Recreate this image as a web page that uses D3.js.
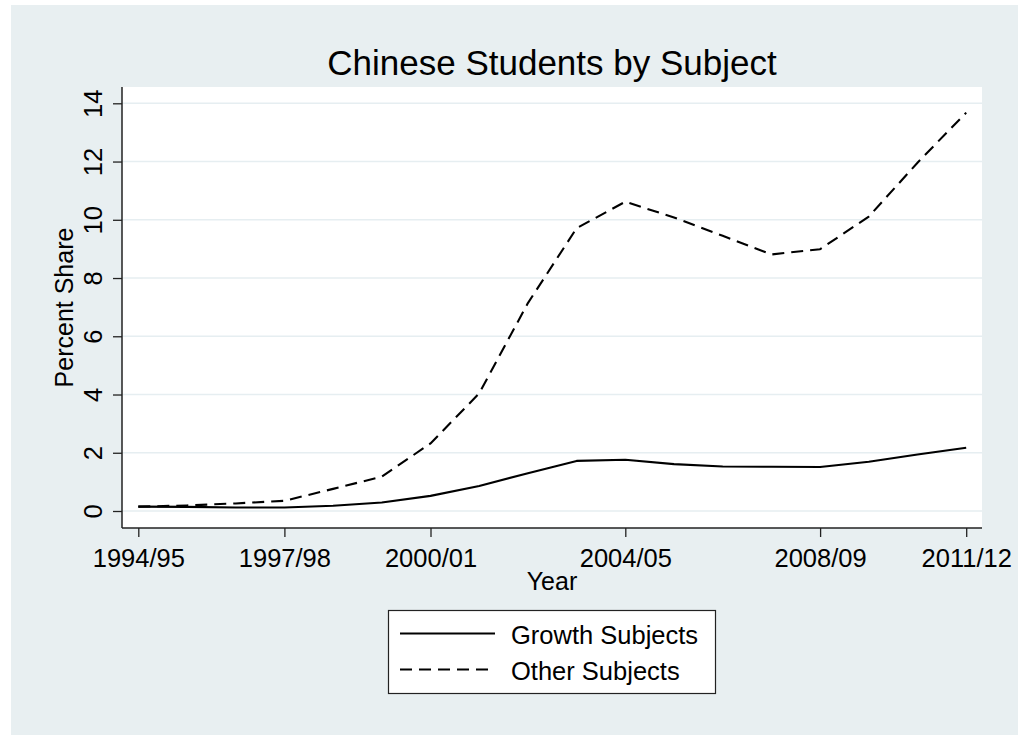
<!DOCTYPE html>
<html>
<head>
<meta charset="utf-8">
<script src="https://cdn.jsdelivr.net/npm/d3@7/dist/d3.min.js"></script>
<style>
  html, body { margin: 0; padding: 0; background: #ffffff; }
  svg { display: block; }
  text { font-family: Arial, "Liberation Sans", sans-serif; fill: #000; }
</style>
</head>
<body>
<svg id="chart" width="1018" height="735"></svg>
<script>
// Academic years (start year of each session)
const years = [1994, 1995, 1996, 1997, 1998, 1999, 2000, 2001, 2002,
               2003, 2004, 2005, 2006, 2007, 2008, 2009, 2010, 2011];

// Percent share of Chinese students, by subject group
const growthSubjects = [0.15, 0.14, 0.12, 0.12, 0.18, 0.29, 0.52, 0.86, 1.30,
                        1.72, 1.76, 1.61, 1.53, 1.52, 1.51, 1.69, 1.94, 2.17];
const otherSubjects  = [0.15, 0.19, 0.26, 0.35, 0.76, 1.18, 2.32, 4.04, 7.14,
                        9.71, 10.62, 10.08, 9.45, 8.81, 8.99, 10.11, 11.96, 13.68];

// Axis ticks
const xTickYears  = [1994, 1997, 2000, 2004, 2008, 2011];
const xTickLabels = ["1994/95", "1997/98", "2000/01", "2004/05", "2008/09", "2011/12"];
const yTicks = [0, 2, 4, 6, 8, 10, 12, 14];

const seriesNames = ["Growth Subjects", "Other Subjects"];

const svg = d3.select("#chart");
const bg = "#e8eff1";

// graph region
svg.append("rect").attr("x", 11).attr("y", 5).attr("width", 1007).attr("height", 730).attr("fill", bg);

// plot region
const plot = { left: 122, right: 982, top: 87, bottom: 528 };
svg.append("rect")
  .attr("x", plot.left).attr("y", plot.top)
  .attr("width", plot.right - plot.left).attr("height", plot.bottom - plot.top)
  .attr("fill", "#ffffff");

const x = d3.scaleLinear().domain([1994, 2011]).range([138.3, 966.2]);
const y = d3.scaleLinear().domain([0, 14]).range([511, 103.3]);

// gridlines
svg.append("g").selectAll("line").data(yTicks).join("line")
  .attr("x1", plot.left).attr("x2", plot.right)
  .attr("y1", d => y(d)).attr("y2", d => y(d))
  .attr("stroke", "#e6eef1").attr("stroke-width", 1.6);

// y axis
const yAxis = d3.axisLeft(y).tickValues(yTicks).tickSize(9).tickPadding(0).tickFormat(d3.format("d"));
const gy = svg.append("g").attr("transform", `translate(${plot.left},0)`).call(yAxis);
gy.select(".domain").remove();
gy.selectAll(".tick line").attr("stroke", "#222").attr("stroke-width", 1.3);
gy.selectAll(".tick text")
  .attr("x", null).attr("dy", null)
  .attr("transform", "translate(-20.5,0) rotate(-90)")
  .attr("text-anchor", "middle")
  .style("font-size", "25.5px");
svg.append("line").attr("x1", plot.left).attr("x2", plot.left)
  .attr("y1", plot.top).attr("y2", plot.bottom).attr("stroke", "#222").attr("stroke-width", 1.5);

// x axis
const xAxis = d3.axisBottom(x).tickValues(xTickYears).tickSize(9).tickPadding(0)
  .tickFormat((d, i) => xTickLabels[i]);
const gx = svg.append("g").attr("transform", `translate(0,${plot.bottom})`).call(xAxis);
gx.select(".domain").remove();
gx.selectAll(".tick line").attr("stroke", "#222").attr("stroke-width", 1.3);
gx.selectAll(".tick text")
  .attr("y", 39).attr("dy", null)
  .style("font-size", "25.5px");
svg.append("line").attr("x1", plot.left).attr("x2", plot.right)
  .attr("y1", plot.bottom).attr("y2", plot.bottom).attr("stroke", "#222").attr("stroke-width", 1.5);

// data lines
const line = d3.line().x((d, i) => x(years[i])).y(d => y(d));
svg.append("path").datum(growthSubjects)
  .attr("d", line).attr("fill", "none").attr("stroke", "#000").attr("stroke-width", 2.1)
  .attr("stroke-linejoin", "round");
svg.append("path").datum(otherSubjects)
  .attr("d", line).attr("fill", "none").attr("stroke", "#000").attr("stroke-width", 2.1)
  .attr("stroke-dasharray", "12,7").attr("stroke-linejoin", "round");

// titles
const cx = (plot.left + plot.right) / 2;
svg.append("text").attr("x", cx).attr("y", 75).attr("text-anchor", "middle")
  .style("font-size", "35px").text("Chinese Students by Subject");
svg.append("text").attr("x", cx).attr("y", 590).attr("text-anchor", "middle")
  .style("font-size", "25px").text("Year");
svg.append("text").attr("transform", `translate(73,${(plot.top + plot.bottom) / 2}) rotate(-90)`)
  .attr("text-anchor", "middle").style("font-size", "25px").text("Percent Share");

// legend
const lg = svg.append("g");
lg.append("rect").attr("x", 388.5).attr("y", 610.5).attr("width", 327).attr("height", 83)
  .attr("fill", "#fff").attr("stroke", "#222").attr("stroke-width", 1.2);
const legendRows = [
  { name: seriesNames[0], dash: null, y: 633.5 },
  { name: seriesNames[1], dash: "12,7", y: 669.5 }
];
legendRows.forEach(r => {
  lg.append("line").attr("x1", 400).attr("x2", 495).attr("y1", r.y).attr("y2", r.y)
    .attr("stroke", "#000").attr("stroke-width", 2.1)
    .attr("stroke-dasharray", r.dash);
  lg.append("text").attr("x", 511).attr("y", r.y + 10.5).style("font-size", "25.5px").text(r.name);
});
</script>
</body>
</html>
